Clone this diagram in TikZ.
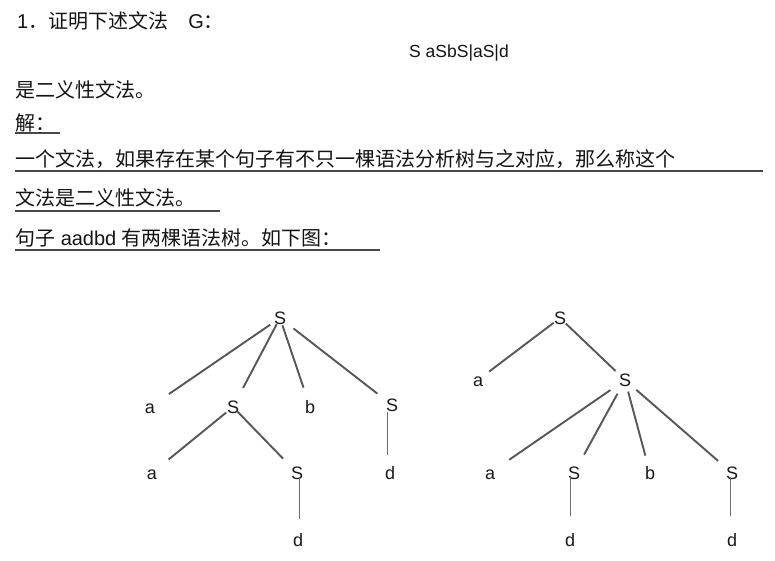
\documentclass[tikz,border=0pt]{standalone}
\usepackage{fontspec}
\setmainfont{Liberation Sans}
\newfontfamily\cjk{Noto Sans CJK SC}
\begin{document}
\begin{tikzpicture}[x=1pt,y=-1pt,
  txt/.style={anchor=base west,inner sep=0pt,text=black!92,font=\fontsize{20}{24}\selectfont},
  lab/.style={inner sep=0pt,text=black!90,font=\fontsize{18}{18}\selectfont,text height=12.9pt,text depth=0pt},
  edge/.style={draw=black!66,line width=1.9pt},
  vedge/.style={draw=black!58,line width=1pt},
  uline/.style={draw=black!72,line width=1.1pt}]
\useasboundingbox[fill=white] (0,0) rectangle (775,561);
% text lines
\node[txt] (t1) at (17,29) {1{\cjk ．证明下述文法}\hspace{20pt}G{\cjk ：}};
\node[txt,font=\fontsize{17.5}{20}\selectfont] (g) at (409,58) {S aSbS|aS|d};
\node[txt] (t2) at (15,97.6) {\cjk 是二义性文法。};
\node[txt] (t3) at (15,131) {\cjk 解：};
\node[txt] (t4) at (15,166.6) {\cjk 一个文法，如果存在某个句子有不只一棵语法分析树与之对应，那么称这个};
\node[txt] (t5) at (15,205.6) {\cjk 文法是二义性文法。};
\node[txt] (t6) at (15,245) {{\cjk 句子} aadbd {\cjk 有两棵语法树。如下图：}};
\draw[uline] ([yshift=-2pt]t3.base west) -- +(45,0);
\draw[uline] ([yshift=-4.4pt]t4.base west) -- +(748,0);
\draw[uline] ([yshift=-5.4pt]t5.base west) -- +(205,0);
\draw[uline] ([yshift=-5pt]t6.base west) -- +(365,0);
% tree 1
\node[lab] (r1) at (280,318) {S};
\node[lab] (a1) at (150,407) {a};
\node[lab] (s2) at (233,407) {S};
\node[lab] (b1) at (310,407) {b};
\node[lab] (s3) at (392,405) {S};
\node[lab] (a2) at (152,473) {a};
\node[lab] (s4) at (297,473) {S};
\node[lab] (d3) at (390,473) {d};
\node[lab] (d4) at (298,540) {d};
\draw[edge,shorten <=11.8pt,shorten >=22.9pt] (r1.center) -- (a1.center);
\draw[edge,shorten <=7pt,shorten >=21.5pt] (r1.center) -- (s2.center);
\draw[edge,shorten <=7.6pt,shorten >=20.4pt] (r1.center) -- (b1.center);
\draw[edge,shorten <=17pt,shorten >=18.5pt] (r1.center) -- (s3.center);
\draw[edge,shorten <=8.8pt,shorten >=21.3pt] (s2.center) -- (a2.center);
\draw[edge,shorten <=5.7pt,shorten >=20pt] (s2.center) -- (s4.center);
\draw[vedge,shorten >=11pt] ([xshift=-5pt]s3.south) -- ([xshift=-5pt]s3.south |- d3.north);
\draw[vedge,shorten >=14pt] ([xshift=2pt,yshift=-4pt]s4.center) -- ([xshift=2pt]s4.center |- d4.north);
% tree 2
\node[lab] (r2) at (560,318) {S};
\node[lab] (a3) at (478,380) {a};
\node[lab] (s5) at (625,380) {S};
\node[lab] (a4) at (490,473) {a};
\node[lab] (s6) at (574,473) {S};
\node[lab] (b2) at (650,473) {b};
\node[lab] (s7) at (732,473) {S};
\node[lab] (d6) at (570,540) {d};
\node[lab] (d7) at (732,540) {d};
\draw[edge,shorten <=8pt,shorten >=14pt] (r2.center) -- (a3.center);
\draw[edge,shorten <=8pt,shorten >=13pt] (r2.center) -- (s5.center);
\draw[edge,shorten <=17.7pt,shorten >=23.3pt] (s5.center) -- (a4.center);
\draw[edge,shorten <=15.6pt,shorten >=21pt] (s5.center) -- (s6.center);
\draw[edge,shorten <=12pt,shorten >=18pt] (s5.center) -- (b2.center);
\draw[edge,shorten <=15pt,shorten >=18.4pt] (s5.center) -- (s7.center);
\draw[vedge,shorten >=17pt] ([xshift=-4pt,yshift=-4pt]s6.center) -- ([xshift=-4pt]s6.center |- d6.north);
\draw[vedge,shorten >=17pt] ([xshift=-2pt,yshift=-4pt]s7.center) -- ([xshift=-2pt]s7.center |- d7.north);
\end{tikzpicture}
\end{document}
